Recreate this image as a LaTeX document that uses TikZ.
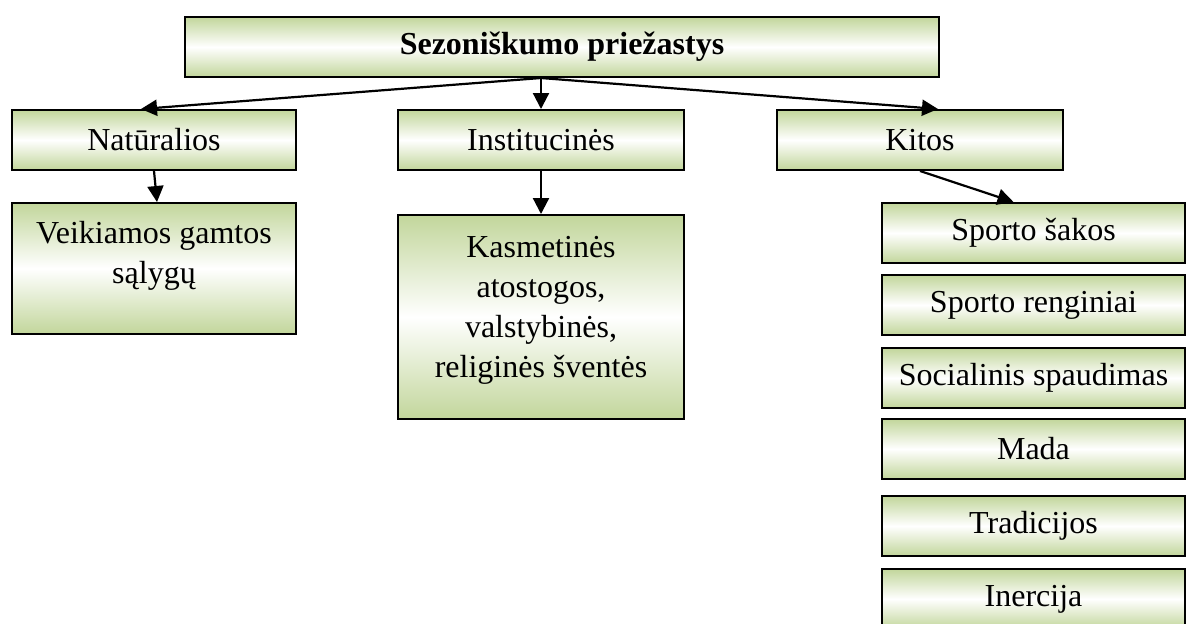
\documentclass[tikz,border=0pt]{standalone}
\usepackage{fontspec}
\setmainfont{Liberation Serif}
\usetikzlibrary{arrows.meta, positioning, calc}
\definecolor{boxgreen}{HTML}{C2D69B}

\begin{document}
\begin{tikzpicture}[x=0.5pt, y=-0.5pt,
  box/.style={draw, line width=1pt, anchor=north west, minimum height=30pt,
    align=center, inner sep=0pt, font=\fontsize{16}{20}\selectfont,
    top color=boxgreen, bottom color=boxgreen, middle color=white},
  conn/.style={-{Triangle[length=8pt, width=8pt]}, line width=1.1pt},
]

% page frame (pixel units)
\useasboundingbox (0,0) rectangle (1186,623);
\clip (0,0) rectangle (1186,623);

% Root on top
\node[box, minimum width=377pt, font=\fontsize{16}{20}\selectfont\bfseries] (cause) at (184,16) {Sezoniškumo priežastys};

% Three groups
\node[box, minimum width=142pt] (nat) at (11,109) {Natūralios};
\node[box, minimum width=143pt] (inst) at (397,109) {Institucinės};
\node[box, minimum width=143pt] (other) at (776,109) {Kitos};

% Details under each group (text sits near the top)
\node[box] (nature) at (11,202)
  {\parbox[c][65.5pt][t]{142pt}{\centering\rule{0pt}{20pt}Veikiamos gamtos\\ sąlygų}};
\node[box] (holiday) at (397,214)
  {\parbox[c][102pt][t]{143pt}{\centering\rule{0pt}{21pt}Kasmetinės\\ atostogos,\\ valstybinės,\\ religinės šventės}};

% Column of other reasons
\node[box, minimum width=151.5pt] (sport) at (881,202) {Sporto šakos};
\node[box, minimum width=151.5pt] (events) at (881,274) {Sporto renginiai};
\node[box, minimum width=151.5pt] (social) at (881,347) {Socialinis spaudimas};
\node[box, minimum width=151.5pt] (fashion) at (881,418) {Mada};
\node[box, minimum width=151.5pt] (tradition) at (881,495) {Tradicijos};
\node[box, minimum width=151.5pt] (inertia) at (881,568) {Inercija};

% root -> groups
\draw[conn] (cause.south -| inst.north) -- ($(nat.north)+(-13,0)$);
\draw[conn] (cause.south -| inst.north) -- (inst.north);
\draw[conn] (cause.south -| inst.north) -- ($(other.north)+(18,0)$);
% groups -> details
\draw[conn] (nat.south) -- ($(nature.north)+(3,0)$);
\draw[conn] (inst.south) -- (holiday.north);
\draw[conn] (other.south) -- ($(sport.north)+(-20,0)$);

\end{tikzpicture}
\end{document}
